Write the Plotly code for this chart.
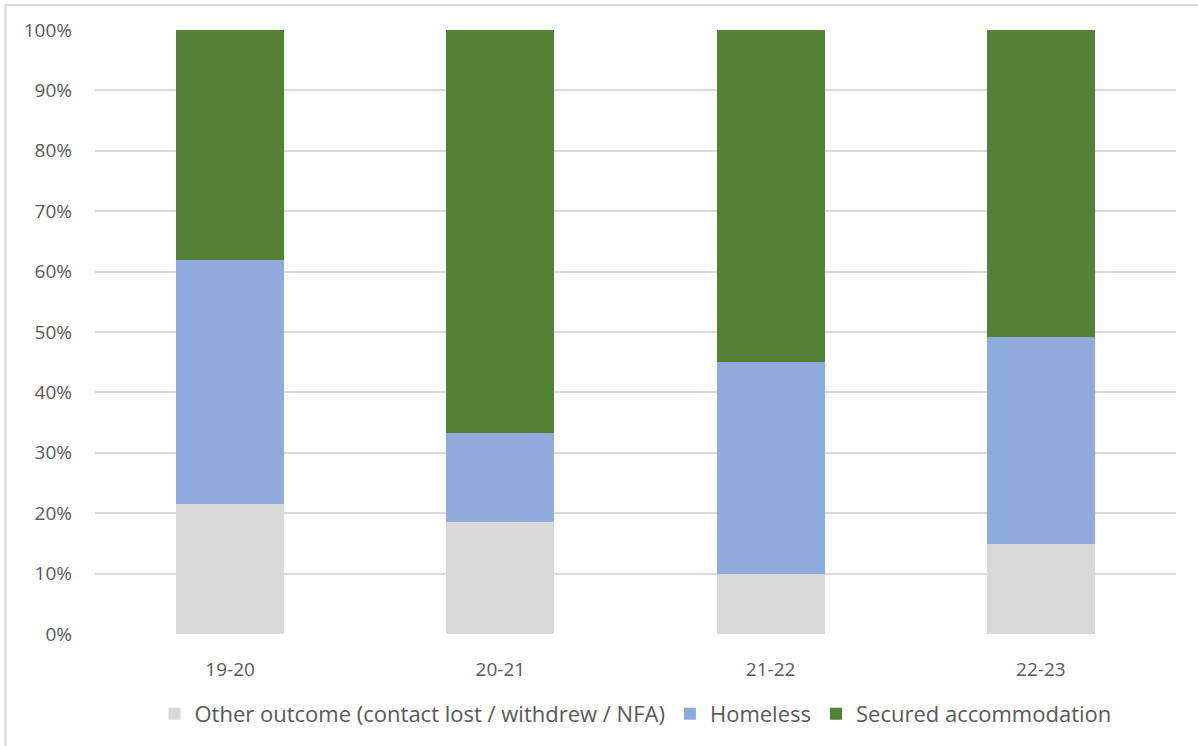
import plotly.graph_objects as go

# Outcome shares by year (percent of cases)
years = ["19-20", "20-21", "21-22", "22-23"]
other_outcome = [21.5, 18.5, 9.9, 14.9]
homeless = [40.4, 14.8, 35.2, 34.2]
secured = [38.1, 66.7, 54.9, 50.9]
y_ticks = [0, 10, 20, 30, 40, 50, 60, 70, 80, 90, 100]
y_tick_labels = [f"{v}%" for v in y_ticks]

W, H = 1198, 746
L, R, T, B = 95, 22, 30, 112
PW, PH = W - L - R, H - T - B

def px_x(px):
    return (px - L) / PW

def px_y(py):
    return (H - B - py) / PH

text_col = "#595959"
font_family = "Open Sans, Liberation Sans, Arial, sans-serif"

fig = go.Figure()
fig.add_trace(go.Bar(x=years, y=other_outcome, name="Other outcome (contact lost / withdrew / NFA)",
                     marker=dict(color="#d9d9d9", line=dict(width=0))))
fig.add_trace(go.Bar(x=years, y=homeless, name="Homeless",
                     marker=dict(color="#8faadc", line=dict(width=0))))
fig.add_trace(go.Bar(x=years, y=secured, name="Secured accommodation",
                     marker=dict(color="#538135", line=dict(width=0))))

fig.update_layout(
    width=W, height=H,
    margin=dict(l=L, r=R, t=T, b=B, autoexpand=False),
    barmode="stack", bargap=0.6,
    plot_bgcolor="white", paper_bgcolor="white",
    font=dict(family=font_family, color=text_col, size=19),
    legend=dict(orientation="h", x=0.5, xanchor="center", y=px_y(714), yanchor="middle",
                font=dict(size=22, color=text_col), traceorder="normal", itemwidth=30),
    showlegend=True,
)
fig.update_xaxes(showgrid=False, showline=False, zeroline=False, ticks="",
                 ticklabelstandoff=22, tickfont=dict(size=19, color=text_col))
fig.update_yaxes(range=[0, 100], tickvals=y_ticks, ticktext=y_tick_labels,
                 showgrid=True, gridcolor="#d9d9d9", gridwidth=2, zeroline=False,
                 showline=False, ticks="", ticklabelstandoff=22,
                 tickfont=dict(size=19, color=text_col))

# Chart frame (left and top edges)
fig.add_shape(type="line", xref="paper", yref="paper",
              x0=px_x(5.5), x1=px_x(5.5), y0=px_y(4), y1=px_y(760),
              line=dict(color="#d9d9d9", width=2), layer="below")
fig.add_shape(type="line", xref="paper", yref="paper",
              x0=px_x(4.5), x1=px_x(1210), y0=px_y(5), y1=px_y(5),
              line=dict(color="#d9d9d9", width=2), layer="below")

fig.write_html("out.html")
